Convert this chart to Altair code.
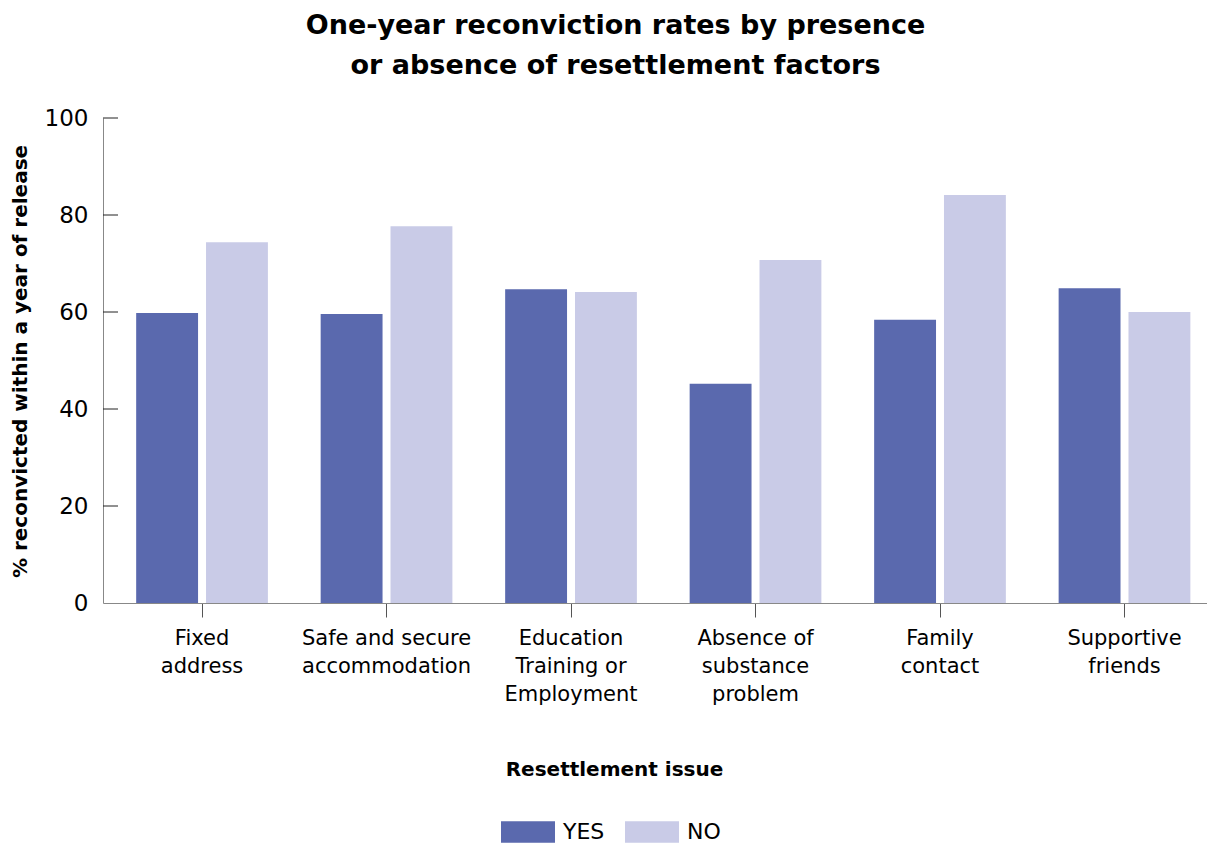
import json
import altair as alt
import pandas as pd

categories = [
    "Fixed address",
    "Safe and secure accommodation",
    "Education Training or Employment",
    "Absence of substance problem",
    "Family contact",
    "Supportive friends",
]
label_lines = [
    ["Fixed", "address"],
    ["Safe and secure", "accommodation"],
    ["Education", "Training or", "Employment"],
    ["Absence of", "substance", "problem"],
    ["Family", "contact"],
    ["Supportive", "friends"],
]
yes_values = [59.8, 59.6, 64.7, 45.2, 58.4, 64.9]
no_values = [74.4, 77.7, 64.1, 70.7, 84.1, 60.0]
groups = ["YES", "NO"]
colors = ["#5a69ae", "#c9cbe7"]
y_ticks = [0, 20, 40, 60, 80, 100]

rows = []
for c, yv, nv in zip(categories, yes_values, no_values):
    rows.append({"issue": c, "group": "YES", "rate": yv})
    rows.append({"issue": c, "group": "NO", "rate": nv})
df = pd.DataFrame(rows)
ticks_df = pd.DataFrame({"rate": y_ticks[1:]})

label_map = json.dumps(dict(zip(categories, label_lines)))
FONT = "DejaVu Sans"

y_axis = alt.Axis(
    values=y_ticks,
    title="% reconvicted within a year of release",
    grid=False,
    ticks=False,
    labelFontSize=23,
    labelFont=FONT,
    labelColor="#000",
    labelPadding=15,
    domainColor="#888",
    titleFontSize=20,
    titleFont=FONT,
    titleFontWeight="bold",
    titleColor="#000",
    titleAngle=270,
    titleX=-83,
    titleY=243,
    titleAlign="center",
    titleBaseline="middle",
)
y_scale = alt.Scale(domain=[0, 100])

bars = alt.Chart(df).mark_bar().encode(
    x=alt.X(
        "issue:N",
        sort=categories,
        scale=alt.Scale(paddingInner=0.286, paddingOuter=0.135, align=0.666),
        axis=alt.Axis(
            title="Resettlement issue",
            labelExpr=f"{label_map}[datum.value]",
            labelAngle=0,
            labelFontSize=21,
            labelLineHeight=28,
            labelPadding=10,
            labelColor="#000",
            labelFont=FONT,
            tickSize=14,
            tickColor="#555",
            domainColor="#888",
            titleFontSize=20,
            titleFont=FONT,
            titleFontWeight="bold",
            titleColor="#000",
            titleX=511,
            titleY=166,
            titleBaseline="middle",
        ),
    ),
    xOffset=alt.XOffset("group:N", sort=groups, scale=alt.Scale(paddingInner=0.114)),
    y=alt.Y("rate:Q", scale=y_scale, axis=y_axis),
    color=alt.Color(
        "group:N",
        sort=groups,
        scale=alt.Scale(domain=groups, range=colors),
        legend=alt.Legend(
            title=None,
            orient="none",
            direction="horizontal",
            legendX=398,
            legendY=687,
            symbolType="M-1,-0.4L1,-0.4L1,0.4L-1,0.4Z",
            symbolSize=2916,
            symbolStrokeWidth=0,
            symbolOpacity=1,
            labelFontSize=22,
            labelFont=FONT,
            labelColor="#000",
            labelOffset=8,
            columnPadding=20,
        ),
    ),
)

inner_ticks = alt.Chart(ticks_df).mark_rule(color="#222", strokeWidth=1).encode(
    x=alt.value(0),
    x2=alt.value(15),
    y=alt.Y("rate:Q", scale=y_scale, axis=y_axis),
)

chart = (
    alt.layer(bars, inner_ticks)
    .properties(
        width=1104,
        height=485,
        autosize=alt.AutoSizeParams(type="none"),
        padding={"left": 95, "top": 110, "right": 0, "bottom": 242},
        title=alt.Title(
            ["One-year reconviction rates by presence", "or absence of resettlement factors"],
            font=FONT,
            fontSize=27,
            fontWeight="bold",
            color="#000",
            lineHeight=40,
            anchor="middle",
            frame="bounds",
            offset=27,
            dx=7,
        ),
    )
    .configure_view(stroke=None)
)

chart.save("out.html", embed_options={"renderer": "svg", "actions": False})
